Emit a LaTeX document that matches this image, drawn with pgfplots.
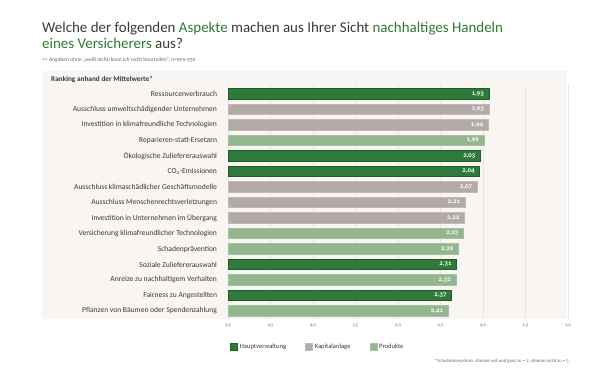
\documentclass[border=0pt]{standalone}
\usepackage{fontspec}
\setmainfont{Carlito}[Numbers=OldStyle]
\usepackage{pgfplots}
\pgfplotsset{compat=1.18}
\usepackage{pgfplotstable}
\definecolor{hv}{HTML}{2F7A3A}
\definecolor{hvd}{HTML}{1C5E24}
\definecolor{ka}{HTML}{B3AAA8}
\definecolor{kad}{HTML}{C2BAB8}
\definecolor{pr}{HTML}{93B690}
\definecolor{prd}{HTML}{A3C2A0}
\definecolor{panel}{HTML}{F8F5F3}
\definecolor{gridc}{HTML}{EAE5E2}
\definecolor{txt}{HTML}{3A3A3A}
\definecolor{tgreen}{HTML}{2E7A31}

\pgfplotstableread{
pos val
0 1.93
4 2.03
5 2.04
11 2.31
13 2.37
}\hvtab
\pgfplotstableread{
pos val
1 1.93
2 1.94
6 2.07
7 2.21
8 2.22
}\katab
\pgfplotstableread{
pos val
3 1.99
9 2.23
10 2.29
12 2.32
14 2.41
}\prtab

\begin{document}
\begin{tikzpicture}
\fill[white] (0,0) rectangle (600bp,-375bp);
\useasboundingbox (0,0) rectangle (600bp,-375bp);
\fill[panel] (42bp,-71bp) rectangle (567bp,-319bp);
\node[anchor=base west, inner sep=0pt, font=\fontsize{15}{18}\selectfont, text=txt] at (42bp,-32bp)
 {Welche der folgenden \textcolor{tgreen}{Aspekte} machen aus Ihrer Sicht \textcolor{tgreen}{nachhaltiges Handeln}};
\node[anchor=base west, inner sep=0pt, font=\fontsize{15}{18}\selectfont, text=txt] at (42bp,-48bp)
 {\textcolor{tgreen}{eines Versicherers} aus?};
\node[anchor=base west, inner sep=0pt, font=\fontsize{5.6}{6}\selectfont, text=txt!75] at (42bp,-61bp)
 {>{}> Angaben ohne „weiß nicht/kann ich nicht beurteilen“, n=909-939};
\node[anchor=base west, inner sep=0pt, font=\bfseries\fontsize{7.3}{8}\selectfont, text=txt] at (51bp,-81.5bp)
 {Ranking anhand der Mittelwerte*};
\node[anchor=base east, inner sep=0pt, font=\fontsize{4.8}{5}\selectfont, text=txt!75] at (569bp,-362.5bp)
 {*Schulnotensystem: stimme voll und ganz zu = 1; stimme nicht zu = 5};
\begin{axis}[
  at={(228bp,-318.75bp)}, anchor=south west,
  scale only axis, width=340bp, height=234.05bp,
  xmin=0, xmax=4, ymin=-0.6, ymax=14.5, y dir=reverse,
  xbar, bar width=10.5bp,
  /pgf/number format/assume math mode=true,
  axis line style={draw=none}, major tick length=0pt,
  xmajorgrids, grid style={gridc, line width=0.8pt},
  xtick={0,0.5,...,4},
  xticklabels={{5,0},{4,5},{4,0},{3,5},{3,0},{2,5},{2,0},{1,5},{1,0}},
  xticklabel style={font=\fontsize{4.6}{5}\selectfont, text=txt!80, yshift=-1.5bp},
  ytick={0,...,14},
  yticklabels={Ressourcenverbrauch,
    Ausschluss umweltschädigender Unternehmen,
    Investition in klimafreundliche Technologien,
    Reparieren-statt-Ersetzen,
    Ökologische Zuliefererauswahl,
    CO\textsubscript{2}-Emissionen,
    Ausschluss klimaschädlicher Geschäftsmodelle,
    Ausschluss Menschenrechtsverletzungen,
    Investition in Unternehmen im Übergang,
    Versicherung klimafreundlicher Technologien,
    Schadenprävention,
    Soziale Zuliefererauswahl,
    Anreize zu nachhaltigem Verhalten,
    Fairness zu Angestellten,
    Pflanzen von Bäumen oder Spendenzahlung},
  yticklabel style={font=\fontsize{7.6}{9}\selectfont, text=txt, xshift=-7.5bp},
  point meta=explicit,
  nodes near coords={\pgfmathprintnumber[fixed,fixed zerofill,precision=2,use comma]{\pgfplotspointmeta}},
  every node near coord/.append style={anchor=east, font=\bfseries\fontsize{6.8}{7}\selectfont, text=white, xshift=-1.5bp},
  legend image code/.code={\draw[#1] (0bp,-3.5bp) rectangle (7bp,3.5bp);},
  legend columns=3,
  legend style={at={(0.006,-0.12)}, anchor=west, draw=none, fill=none, inner sep=0pt,
    font=\fontsize{6.6}{7}\selectfont, text=txt,
    nodes={inner sep=2bp},
    /tikz/every even column/.append style={column sep=17bp}},
]
\addplot[bar shift=0pt, fill=hv, draw=hvd, line width=0.6pt] table[x expr=5-\thisrow{val}, y=pos, meta=val]{\hvtab};
\addlegendentry{Hauptverwaltung}
\addplot[bar shift=0pt, fill=ka, draw=kad, line width=0.6pt] table[x expr=5-\thisrow{val}, y=pos, meta=val]{\katab};
\addlegendentry{Kapitalanlage}
\addplot[bar shift=0pt, fill=pr, draw=prd, line width=0.6pt] table[x expr=5-\thisrow{val}, y=pos, meta=val]{\prtab};
\addlegendentry{Produkte}
\end{axis}
\end{tikzpicture}
\end{document}
